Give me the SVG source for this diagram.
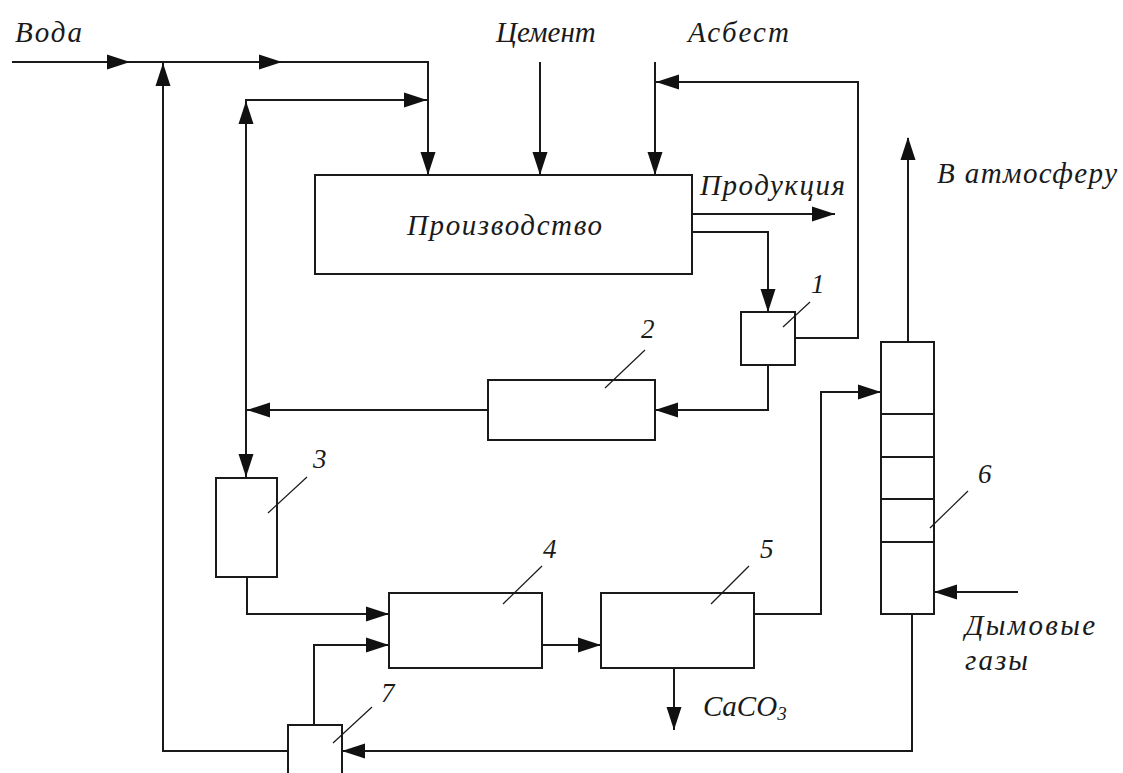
<svg xmlns="http://www.w3.org/2000/svg" xmlns:xlink="http://www.w3.org/1999/xlink" width="1123" height="773" viewBox="0 0 1123 773">
<style>
.ln{fill:none;stroke:#1a1a1a;stroke-width:2}
.bx{fill:#fff;stroke:#1a1a1a;stroke-width:2}
.ld{stroke:#1a1a1a;stroke-width:1.2}
.t{font-family:"Liberation Serif","Times New Roman",serif;font-style:italic;font-size:29px;fill:#1a1a1a}
.n{font-family:"Liberation Serif","Times New Roman",serif;font-style:italic;font-size:27px;fill:#1a1a1a}
</style>
<defs>
<path id="ah" d="M0,0 L-23,-7.5 L-23,7.5 Z" fill="#111"/>
</defs>
<rect width="1123" height="773" fill="#fff"/>
<g id="connectors">
<polyline class="ln" points="12,62 428,62 428,175"/>
<polyline class="ln" points="163,62 163,751 288,751"/>
<polyline class="ln" points="428,100 246,100 246,478"/>
<line class="ln" x1="540" y1="62" x2="540" y2="175"/>
<line class="ln" x1="655" y1="62" x2="655" y2="175"/>
<polyline class="ln" points="655,82 858,82 858,338 795,338"/>
<line class="ln" x1="692" y1="214" x2="835" y2="214"/>
<polyline class="ln" points="692,232 768,232 768,312"/>
<polyline class="ln" points="768,365 768,410 655,410"/>
<line class="ln" x1="488" y1="410" x2="246" y2="410"/>
<polyline class="ln" points="247,577 247,614 389,614"/>
<polyline class="ln" points="314,725 314,645 389,645"/>
<line class="ln" x1="542" y1="645" x2="601" y2="645"/>
<polyline class="ln" points="754,614 821,614 821,392 881,392"/>
<line class="ln" x1="674" y1="668" x2="674" y2="730"/>
<line class="ln" x1="908" y1="342" x2="908" y2="138"/>
<line class="ln" x1="1018" y1="592" x2="934" y2="592"/>
<polyline class="ln" points="912,614 912,751 342,751"/>
<use xlink:href="#ah" transform="translate(130,62)"/>
<use xlink:href="#ah" transform="translate(282,62)"/>
<use xlink:href="#ah" transform="translate(163,63) rotate(-90)"/>
<use xlink:href="#ah" transform="translate(246,101) rotate(-90)"/>
<use xlink:href="#ah" transform="translate(427,100)"/>
<use xlink:href="#ah" transform="translate(428,175) rotate(90)"/>
<use xlink:href="#ah" transform="translate(540,175) rotate(90)"/>
<use xlink:href="#ah" transform="translate(655,175) rotate(90)"/>
<use xlink:href="#ah" transform="translate(656,82) rotate(180)"/>
<use xlink:href="#ah" transform="translate(835,214)"/>
<use xlink:href="#ah" transform="translate(768,312) rotate(90)"/>
<use xlink:href="#ah" transform="translate(655,410) rotate(180)"/>
<use xlink:href="#ah" transform="translate(247,410) rotate(180)"/>
<use xlink:href="#ah" transform="translate(246,477) rotate(90)"/>
<use xlink:href="#ah" transform="translate(389,614)"/>
<use xlink:href="#ah" transform="translate(389,645)"/>
<use xlink:href="#ah" transform="translate(601,645)"/>
<use xlink:href="#ah" transform="translate(881,392)"/>
<use xlink:href="#ah" transform="translate(908,137) rotate(-90)"/>
<use xlink:href="#ah" transform="translate(934,592) rotate(180)"/>
<use xlink:href="#ah" transform="translate(674,730) rotate(90)"/>
<use xlink:href="#ah" transform="translate(342,751) rotate(180)"/>
</g>
<g id="labels">
<text class="t" x="15" y="42" textLength="67">Вода</text>
<text class="t" x="496" y="42">Цемент</text>
<text class="t" x="688" y="42" textLength="101">Асбест</text>
<text class="t" x="700" y="195" textLength="145">Продукция</text>
<text class="t" x="937" y="183" textLength="180">В атмосферу</text>
<text class="t" x="965" y="635" textLength="130">Дымовые</text>
<text class="t" x="965" y="670" textLength="63">газы</text>
<text class="t" x="703" y="716">CaCO<tspan font-size="19" dy="4">3</tspan></text>
</g>
<g id="production">
<rect class="bx" x="315" y="175" width="377" height="99"/>
<text class="t" x="407" y="235" textLength="195">Производство</text>
</g>
<g id="node1">
<rect class="bx" x="741" y="312" width="54" height="53"/>
<line class="ld" x1="810" y1="302" x2="783" y2="327"/>
<text class="n" x="811" y="293">1</text>
</g>
<g id="node2">
<rect class="bx" x="488" y="380" width="167" height="60"/>
<line class="ld" x1="645" y1="350" x2="605" y2="388"/>
<text class="n" x="641" y="338">2</text>
</g>
<g id="node3">
<rect class="bx" x="216" y="478" width="61" height="99"/>
<line class="ld" x1="307" y1="477" x2="268" y2="513"/>
<text class="n" x="313" y="468">3</text>
</g>
<g id="node4">
<rect class="bx" x="389" y="593" width="153" height="75"/>
<line class="ld" x1="542" y1="566" x2="503" y2="604"/>
<text class="n" x="543" y="558">4</text>
</g>
<g id="node5">
<rect class="bx" x="601" y="593" width="153" height="75"/>
<line class="ld" x1="749" y1="566" x2="711" y2="604"/>
<text class="n" x="760" y="558">5</text>
</g>
<g id="node6">
<rect class="bx" x="881" y="342" width="53" height="272"/>
<line class="ln" x1="881" y1="414" x2="934" y2="414"/>
<line class="ln" x1="881" y1="457" x2="934" y2="457"/>
<line class="ln" x1="881" y1="499" x2="934" y2="499"/>
<line class="ln" x1="881" y1="542" x2="934" y2="542"/>
<line class="ld" x1="968" y1="491" x2="930" y2="528"/>
<text class="n" x="978" y="483">6</text>
</g>
<g id="node7">
<rect class="bx" x="288" y="725" width="54" height="60"/>
<line class="ld" x1="372" y1="707" x2="333" y2="743"/>
<text class="n" x="381" y="702">7</text>
</g>
</svg>
